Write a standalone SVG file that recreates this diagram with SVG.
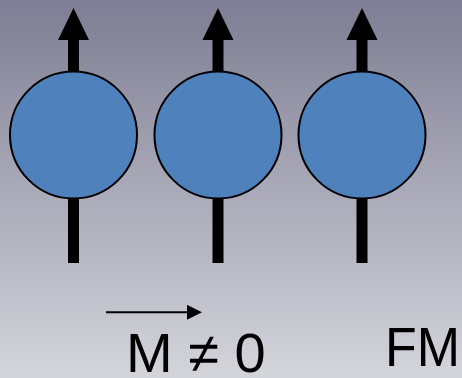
<svg xmlns="http://www.w3.org/2000/svg" width="462" height="378" viewBox="0 0 462 378">
  <defs>
    <linearGradient id="bg" x1="0" y1="0" x2="0" y2="1">
      <stop offset="0" stop-color="#7e7e94"/>
      <stop offset="1" stop-color="#d4d4db"/>
    </linearGradient>
    <marker id="mhead" markerUnits="userSpaceOnUse" markerWidth="16" markerHeight="16" refX="0" refY="7.5" orient="auto">
      <polygon points="0,0 15,7.5 0,15" fill="#000"/>
    </marker>
  </defs>
  <style>
    .shaft { fill: #000; }
    .head { fill: #000; }
    .atom { fill: #4f81bd; stroke: #000; stroke-width: 2; }
    .lbl { font-family: "Liberation Sans", Arial, sans-serif; font-size: 56px; fill: #000; }
  </style>
  <rect x="0" y="0" width="462" height="378" fill="url(#bg)"/>

  <g id="spin1">
    <rect class="shaft" x="68" y="38" width="11" height="225"/>
    <polygon class="head" points="73.5,8 89,40 58,40"/>
    <circle class="atom" cx="73.5" cy="135" r="63.5"/>
  </g>
  <g id="spin2">
    <rect class="shaft" x="212.5" y="38" width="11" height="225"/>
    <polygon class="head" points="218,8 233.5,40 202.5,40"/>
    <circle class="atom" cx="218" cy="135" r="63.5"/>
  </g>
  <g id="spin3">
    <rect class="shaft" x="356.5" y="38" width="11" height="225"/>
    <polygon class="head" points="362,8 377.5,40 346.5,40"/>
    <circle class="atom" cx="362" cy="135" r="63.5"/>
  </g>

  <g id="connectors">
    <line x1="106" y1="312.3" x2="187" y2="312.3" stroke="#000" stroke-width="2" marker-end="url(#mhead)"/>
  </g>

  <g id="labels">
    <text class="lbl" x="126" y="372">M ≠ 0</text>
    <text class="lbl" x="385" y="366" textLength="75" lengthAdjust="spacingAndGlyphs">FM</text>
  </g>
</svg>
